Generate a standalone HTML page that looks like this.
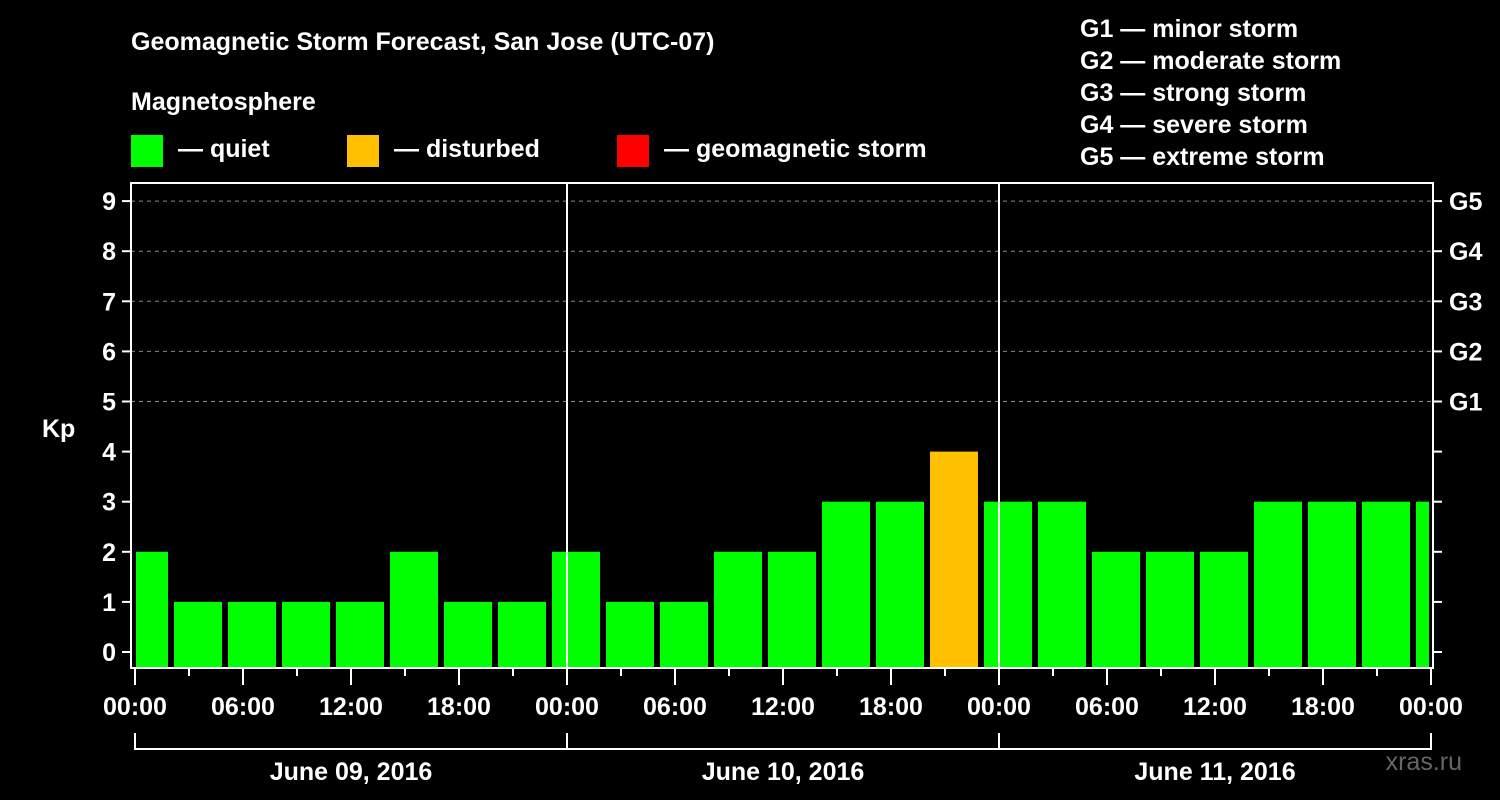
<!DOCTYPE html>
<html><head><meta charset="utf-8">
<style>
html,body{margin:0;padding:0;background:#000;}
svg{display:block;font-family:"Liberation Sans",Arial,sans-serif;font-weight:bold;}
</style></head>
<body>
<svg id="chart" width="1500" height="800" viewBox="0 0 1500 800">
<rect width="1500" height="800" fill="#000"/>
<text x="131" y="50" fill="#fff" font-size="25">Geomagnetic Storm Forecast, San Jose (UTC-07)</text>
<text x="131" y="110" fill="#fff" font-size="25">Magnetosphere</text>
<g><rect x="131" y="135" width="32" height="32" fill="#00ff00"/><text x="178" y="157" fill="#fff" font-size="25">— quiet</text></g>
<g><rect x="347" y="135" width="32" height="32" fill="#ffc000"/><text x="394" y="157" fill="#fff" font-size="25">— disturbed</text></g>
<g><rect x="617" y="135" width="32" height="32" fill="#ff0000"/><text x="664" y="157" fill="#fff" font-size="25">— geomagnetic storm</text></g>
<g fill="#fff" font-size="25">
<text x="1080" y="37">G1 — minor storm</text>
<text x="1080" y="69">G2 — moderate storm</text>
<text x="1080" y="101">G3 — strong storm</text>
<text x="1080" y="133">G4 — severe storm</text>
<text x="1080" y="165">G5 — extreme storm</text>
</g>
<text x="42" y="437" fill="#fff" font-size="25">Kp</text>
<text x="1462" y="770" fill="#666" font-size="25" text-anchor="end" font-weight="normal">xras.ru</text>
<g id="plot"></g>
</svg>
<script>
const kpValues = [2,1,1,1,1,2,1,1, 2,1,1,2,2,3,3,4,3,3, 2,2,2,3,3,3,3];
const barStartHours = [-1,2,5,8,11,14,17,20,23,26,29,32,35,38,41,44,47,50,53,56,59,62,65,68,71];
const kpTicks = [0,1,2,3,4,5,6,7,8,9];
const gLabels = ["G1","G2","G3","G4","G5"];
const gLevels = [5,6,7,8,9];
const timeLabels = ["00:00","06:00","12:00","18:00","00:00","06:00","12:00","18:00","00:00","06:00","12:00","18:00","00:00"];
const dayLabels = ["June 09, 2016","June 10, 2016","June 11, 2016"];

const NS="http://www.w3.org/2000/svg";
const g=document.getElementById('plot');
const X0=135, PXH=18, TOTAL=72;
const xs=h=>X0+h*PXH;
const ys=v=>652-v*50.1;
const L=131,R=1433,T=183,B=668;
function mk(tag,attrs,parent){const e=document.createElementNS(NS,tag);for(const k in attrs)e.setAttribute(k,attrs[k]);(parent||g).appendChild(e);return e;}

// gridlines
kpTicks.forEach(v=>{ if(v>=5){
 const ln=mk('line',{x1:L,x2:R,y1:ys(v),y2:ys(v),stroke:'#888','stroke-width':1,'stroke-dasharray':'4,4'});
 
 
}});
// bars
kpValues.forEach((v,i)=>{
 let x1=xs(barStartHours[i])+3, x2=xs(barStartHours[i]+3)-3;
 x1=Math.max(x1,X0+1); x2=Math.min(x2,xs(TOTAL)-2);
 const col=v>=5?'#ff0000':(v>=4?'#ffc000':'#00ff00');
 const r=mk('rect',{x:x1,y:ys(v),width:x2-x1,height:B-ys(v),fill:col});
 
 
});
// day separators
[24,48].forEach(h=>{
 const ln=mk('line',{x1:xs(h),x2:xs(h),y1:T,y2:B,stroke:'#fff','stroke-width':2});
 
 
});
// frame
const fr=mk('rect',{x:L,y:T,width:R-L,height:B-T,fill:'none',stroke:'#fff','stroke-width':2});


// y ticks left
kpTicks.forEach(v=>{
 const t=mk('line',{x1:122,x2:L,y1:ys(v),y2:ys(v),stroke:'#fff','stroke-width':2});
 
 
 const tx=mk('text',{x:116,y:ys(v)+9,fill:'#fff','font-size':25,'text-anchor':'end'});
 tx.textContent=v;
 
 
 const rt=mk('line',{x1:R,x2:1442,y1:ys(v),y2:ys(v),stroke:'#fff','stroke-width':2});
 
 
});
gLabels.forEach((lab,i)=>{
 const tx=mk('text',{x:1449,y:ys(gLevels[i])+9,fill:'#fff','font-size':25});
 tx.textContent=lab;
 
 
});
// x ticks
for(let h=0;h<=TOTAL;h+=3){
 const long=h%6===0;
 const t=mk('line',{x1:xs(h),x2:xs(h),y1:B,y2:B+(long?17:8),stroke:'#fff','stroke-width':2});
 
 
}
timeLabels.forEach((lab,i)=>{
 const tx=mk('text',{x:xs(i*6),y:715,fill:'#fff','font-size':25,'text-anchor':'middle'});
 tx.textContent=lab;
 
 
});
// day brackets
dayLabels.forEach((lab,i)=>{
 const a=xs(i*24), b=xs((i+1)*24);
 const p=mk('path',{d:`M${a},733 V749 H${b} V733`,fill:'none',stroke:'#fff','stroke-width':2});
 
 
 const tx=mk('text',{x:(a+b)/2,y:780,fill:'#fff','font-size':25,'text-anchor':'middle'});
 tx.textContent=lab;
 
 
});
</script>
</body></html>
